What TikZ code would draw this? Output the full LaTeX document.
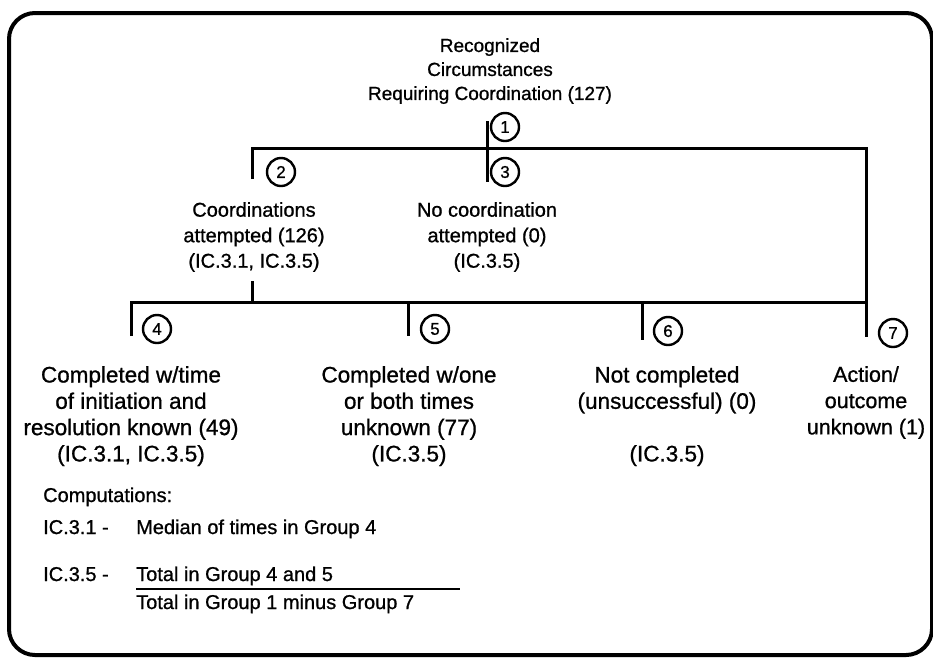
\documentclass[tikz,border=0pt]{standalone}
\usepackage{fontspec}
\setmainfont[FakeBold=0.6]{Liberation Sans}
\newfontfamily\heavysans[FakeBold=0.9]{Liberation Sans}
\begin{document}
\begin{tikzpicture}[x=1pt,y=-1pt,
  frame/.style={line width=4pt, rounded corners=26pt},
  tree/.style={line width=3pt},
  num/.style={circle, draw, line width=2.4pt, minimum size=28pt, inner sep=0pt, font=\heavysans\fontsize{17}{17}\selectfont},
  toptxt/.style={align=center, inner sep=0pt, anchor=north, font=\heavysans\fontsize{19}{24}\selectfont},
  midtxt/.style={align=center, inner sep=0pt, anchor=north, font=\heavysans\fontsize{20}{25.5}\selectfont},
  lowtxt/.style={align=center, inner sep=0pt, anchor=north, font=\heavysans\fontsize{22.5}{26.3}\selectfont},
  comptxt/.style={inner sep=0pt, anchor=base west, font=\heavysans\fontsize{20}{24}\selectfont}
]
\useasboundingbox (0,0) rectangle (933,657);
\draw[frame] (9,13) rectangle (932,655);

% texts
\node[toptxt] (root) at (490,38) {Recognized\\Circumstances\\Requiring Coordination (127)};
\node[midtxt] (att) at (254,202) {Coordinations\\attempted (126)\\(IC.3.1, IC.3.5)};
\node[midtxt] (noatt) at (487,202) {No coordination\\attempted (0)\\(IC.3.5)};
\node[lowtxt] (g4) at (131,366) {Completed w/time\\of initiation and\\resolution known (49)\\(IC.3.1, IC.3.5)};
\node[lowtxt] (g5) at (409,366) {Completed w/one\\or both times\\unknown (77)\\(IC.3.5)};
\node[lowtxt] (g6) at (667,366) {Not completed\\(unsuccessful) (0)\\\mbox{}\\(IC.3.5)};
\node[lowtxt, font=\heavysans\fontsize{21.5}{26.3}\selectfont] (g7) at (866,366) {Action/\\outcome\\unknown (1)};

% numbered circles
\node[num] (n1) at (505,127) {1};
\node[num] (n2) at (281,172) {2};
\node[num] (n3) at (505,172) {3};
\node[num] (n4) at (157,329) {4};
\node[num] (n5) at (435,329) {5};
\node[num] (n6) at (668,331) {6};
\node[num] (n7) at (893,333) {7};

% tree coordinates
\coordinate (rtop) at (487,121);
\coordinate (rbot) at (487,182);
\coordinate (hl) at (252,148);
\coordinate (hr) at (866,148);
\coordinate (l2) at (252,179);
\coordinate (a1) at (252,281);
\coordinate (a2) at (252,302);
\coordinate (b4) at (131,302);
\coordinate (e4) at (131,336);
\coordinate (b5) at (408,302);
\coordinate (e5) at (408,336);
\coordinate (b6) at (642,302);
\coordinate (e6) at (642,340);
\coordinate (e7) at (866,337);

\draw[tree] (rtop) -- (rbot);
\draw[tree] (l2) -- (hl) -- (hr) -- (e7);
\draw[tree] (a1) -- (a2);
\draw[tree] (e4) -- (b4) -- (b6 -| hr);
\draw[tree] (b5) -- (e5);
\draw[tree] (b6) -- (e6);

% computations
\node[comptxt] (comp) at (43,502) {Computations:};
\node[comptxt] (ic31) at (43,534) {IC.3.1 -};
\node[comptxt] (med) at (136,534) {Median of times in Group 4};
\node[comptxt] (ic35) at (43,581) {IC.3.5 -};
\node[comptxt] (numr) at (136,581) {Total in Group 4 and 5};
\node[comptxt] (den) at (136,609) {Total in Group 1 minus Group 7};
\coordinate (ul) at (136,589);
\coordinate (ur) at (460,589);
\draw[line width=2pt] (ul) -- (ur);
\end{tikzpicture}
\end{document}
